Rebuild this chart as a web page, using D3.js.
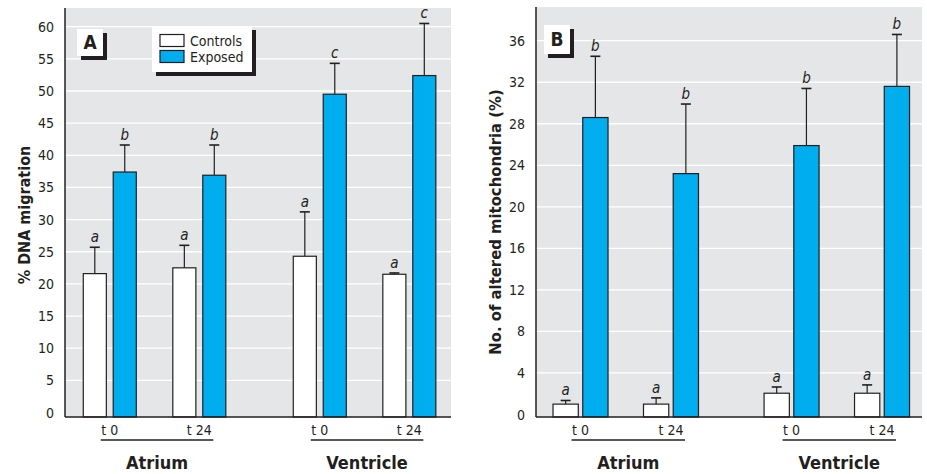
<!DOCTYPE html>
<html>
<head>
<meta charset="utf-8">
<script src="https://cdn.jsdelivr.net/npm/d3@7"></script>
<style>
  body { margin: 0; background: #fff; }
  text { font-family: "Liberation Sans Narrow", "DejaVu Sans Condensed", "Roboto Condensed", "Arial Narrow", sans-serif; fill: #231f20; }
</style>
</head>
<body>
<div id="chart"></div>
<script>
// Shared categories
const seriesNames = ['Controls', 'Exposed'];
const tissues = ['Atrium', 'Ventricle'];
const times = ['t 0', 't 24'];

// Panel A: % DNA migration (order: Atrium t0, Atrium t24, Ventricle t0, Ventricle t24)
const dnaControls = [21.6, 22.5, 24.3, 21.5];
const dnaControlsErr = [4.1, 3.5, 6.9, 0.2];
const dnaControlsSig = ['a', 'a', 'a', 'a'];
const dnaExposed = [37.4, 36.9, 49.5, 52.4];
const dnaExposedErr = [4.2, 4.7, 4.8, 8.1];
const dnaExposedSig = ['b', 'b', 'c', 'c'];
const dnaTicks = [0, 5, 10, 15, 20, 25, 30, 35, 40, 45, 50, 55, 60];

// Panel B: No. of altered mitochondria (%)
const mitoControls = [1.0, 1.0, 2.05, 2.05];
const mitoControlsErr = [0.35, 0.6, 0.6, 0.8];
const mitoControlsSig = ['a', 'a', 'a', 'a'];
const mitoExposed = [28.6, 23.2, 25.9, 31.6];
const mitoExposedErr = [5.9, 6.7, 5.5, 5.0];
const mitoExposedSig = ['b', 'b', 'b', 'b'];
const mitoTicks = [0, 4, 8, 12, 16, 20, 24, 28, 32, 36];

const w = 927, h = 474;
const blue = '#00adee', bg = '#e5e6e8', ink = '#231f20';

const svg = d3.select('#chart').append('svg')
  .attr('width', w).attr('height', h);

function drawPanel(p) {
  let g = svg.append('g');

  // y scale: zero sits a little above the drawn baseline, as in the print
  let y = d3.scaleLinear()
    .domain([0, p.ticks[p.ticks.length - 1]])
    .range([p.zeroY, p.topTickY]);

  // nested band scales: tissue -> time -> series
  let xTissue = d3.scaleBand().domain(tissues)
    .range([p.left, p.right])
    .paddingInner(p.tissuePadIn).paddingOuter(p.tissuePadOut).align(p.align);
  let xTime = d3.scaleBand().domain(times)
    .range([0, xTissue.bandwidth()])
    .paddingInner(p.timePadIn).paddingOuter(0.1);
  let xSeries = d3.scaleBand().domain(seriesNames)
    .range([0, xTime.bandwidth()])
    .paddingInner(p.seriesPad);

  // plot background
  g.append('rect')
    .attr('x', p.left).attr('y', p.top)
    .attr('width', p.right - p.left).attr('height', p.bottom - p.top)
    .attr('fill', bg);

  // gridlines
  g.selectAll('.grid').data(p.ticks.filter(t => t > 0)).enter()
    .append('line')
    .attr('x1', p.left).attr('x2', p.right)
    .attr('y1', d => y(d)).attr('y2', d => y(d))
    .attr('stroke', '#fff').attr('stroke-width', 1.3);

  // tick labels
  g.selectAll('.tick').data(p.ticks).enter()
    .append('text')
    .attr('x', p.left - 11)
    .attr('y', d => y(d))
    .attr('dy', '0.36em')
    .attr('text-anchor', 'end')
    .style('font-size', '14px')
    .text(d => d);

  // flatten the rows into bars
  let bars = [];
  tissues.forEach((tis, ti) => {
    times.forEach((tm, mi) => {
      let k = ti * 2 + mi;
      bars.push({ tis, tm, s: 'Controls', v: p.controls[k], e: p.controlsErr[k], sig: p.controlsSig[k] });
      bars.push({ tis, tm, s: 'Exposed', v: p.exposed[k], e: p.exposedErr[k], sig: p.exposedSig[k] });
    });
  });
  let bx = d => xTissue(d.tis) + xTime(d.tm) + xSeries(d.s);
  let bw = xSeries.bandwidth();

  // error bars (upper only)
  let err = g.selectAll('.err').data(bars).enter().append('g');
  err.append('line')
    .attr('x1', d => bx(d) + bw / 2).attr('x2', d => bx(d) + bw / 2)
    .attr('y1', d => y(d.v)).attr('y2', d => y(d.v + d.e))
    .attr('stroke', ink).attr('stroke-width', 1.2);
  err.append('line')
    .attr('x1', d => bx(d) + bw / 2 - 5).attr('x2', d => bx(d) + bw / 2 + 5)
    .attr('y1', d => y(d.v + d.e)).attr('y2', d => y(d.v + d.e))
    .attr('stroke', ink).attr('stroke-width', 1.6);
  err.append('text')
    .attr('x', d => bx(d) + bw / 2)
    .attr('y', d => y(d.v + d.e) - 5)
    .attr('text-anchor', 'middle')
    .style('font-size', '15px').style('font-style', 'italic')
    .text(d => d.sig);

  // bars
  g.selectAll('.bar').data(bars).enter()
    .append('rect')
    .attr('x', bx)
    .attr('y', d => y(d.v))
    .attr('width', bw)
    .attr('height', d => p.bottom - y(d.v))
    .attr('fill', d => d.s === 'Exposed' ? blue : '#fff')
    .attr('stroke', ink).attr('stroke-width', 1.2);

  // axes lines
  g.append('line')
    .attr('x1', p.left).attr('x2', p.left)
    .attr('y1', p.top).attr('y2', p.bottom)
    .attr('stroke', ink).attr('stroke-width', 1.5);
  g.append('line')
    .attr('x1', p.left).attr('x2', p.right)
    .attr('y1', p.bottom).attr('y2', p.bottom)
    .attr('stroke', ink).attr('stroke-width', 1.5);

  // time labels, underline, tissue labels
  tissues.forEach(tis => {
    times.forEach(tm => {
      g.append('text')
        .attr('x', xTissue(tis) + xTime(tm) + xTime.bandwidth() / 2)
        .attr('y', 435)
        .attr('text-anchor', 'middle')
        .style('font-size', '14px')
        .text(tm);
    });
    let u0 = xTissue(tis) + xTime(times[0]) + xTime.bandwidth() / 2 - 9;
    let u1 = xTissue(tis) + xTime(times[1]) + xTime.bandwidth() / 2 + 14;
    g.append('line')
      .attr('x1', u0).attr('x2', u1)
      .attr('y1', 440).attr('y2', 440)
      .attr('stroke', ink).attr('stroke-width', 1.5);
    g.append('text')
      .attr('x', (u0 + u1) / 2)
      .attr('y', 469)
      .attr('text-anchor', 'middle')
      .style('font-size', '18px').style('font-weight', 'bold')
      .text(tis);
  });

  // y axis title
  g.append('text')
    .attr('transform', `translate(${p.titleX},${p.titleY}) rotate(-90)`)
    .attr('text-anchor', 'middle')
    .style('font-size', p.titleSize).style('font-weight', 'bold')
    .text(p.title);

  // panel letter with drop shadow
  let lb = p.letterBox;
  g.append('rect').attr('x', lb[0] + 4).attr('y', lb[1] + 4)
    .attr('width', lb[2]).attr('height', lb[3]).attr('fill', ink);
  g.append('rect').attr('x', lb[0]).attr('y', lb[1])
    .attr('width', lb[2]).attr('height', lb[3]).attr('fill', '#fff');
  g.append('text')
    .attr('x', lb[0] + lb[2] / 2).attr('y', lb[1] + lb[3] / 2)
    .attr('dy', '0.36em').attr('text-anchor', 'middle')
    .style('font-size', '19px').style('font-weight', 'bold')
    .text(p.letter);

  return g;
}

drawPanel({
  left: 65, right: 451, top: 8, bottom: 417,
  zeroY: 412.5, topTickY: 26.7,
  ticks: dnaTicks,
  tissuePadIn: 0.236, tissuePadOut: 0.037, align: 0.6,
  timePadIn: 0.408, seriesPad: 0.23,
  controls: dnaControls, controlsErr: dnaControlsErr, controlsSig: dnaControlsSig,
  exposed: dnaExposed, exposedErr: dnaExposedErr, exposedSig: dnaExposedSig,
  title: '% DNA migration', titleX: 30, titleY: 215, titleSize: '16px',
  letter: 'A', letterBox: [77, 29, 26, 27]
});

drawPanel({
  left: 536, right: 922, top: 7, bottom: 417,
  zeroY: 414.5, topTickY: 40.7,
  ticks: mitoTicks,
  tissuePadIn: 0.225, tissuePadOut: 0.027, align: 0.7,
  timePadIn: 0.392, seriesPad: 0.15,
  controls: mitoControls, controlsErr: mitoControlsErr, controlsSig: mitoControlsSig,
  exposed: mitoExposed, exposedErr: mitoExposedErr, exposedSig: mitoExposedSig,
  title: 'No. of altered mitochondria (%)', titleX: 501, titleY: 222, titleSize: '16.5px',
  letter: 'B', letterBox: [544, 25, 26, 29]
});

// legend (panel A only)
let leg = svg.append('g');
leg.append('rect').attr('x', 156).attr('y', 30).attr('width', 100).attr('height', 46).attr('fill', ink);
leg.append('rect').attr('x', 152).attr('y', 26).attr('width', 100).attr('height', 46).attr('fill', '#fff');
let li = leg.selectAll('.li').data(seriesNames).enter().append('g')
  .attr('transform', (d, i) => `translate(160,${34.5 + i * 16})`);
li.append('rect')
  .attr('width', 24).attr('height', 12)
  .attr('fill', d => d === 'Exposed' ? blue : '#fff')
  .attr('stroke', ink).attr('stroke-width', 1.2);
li.append('text')
  .attr('x', 30).attr('y', 6).attr('dy', '0.36em')
  .style('font-size', '14px')
  .text(d => d);
</script>
</body>
</html>
